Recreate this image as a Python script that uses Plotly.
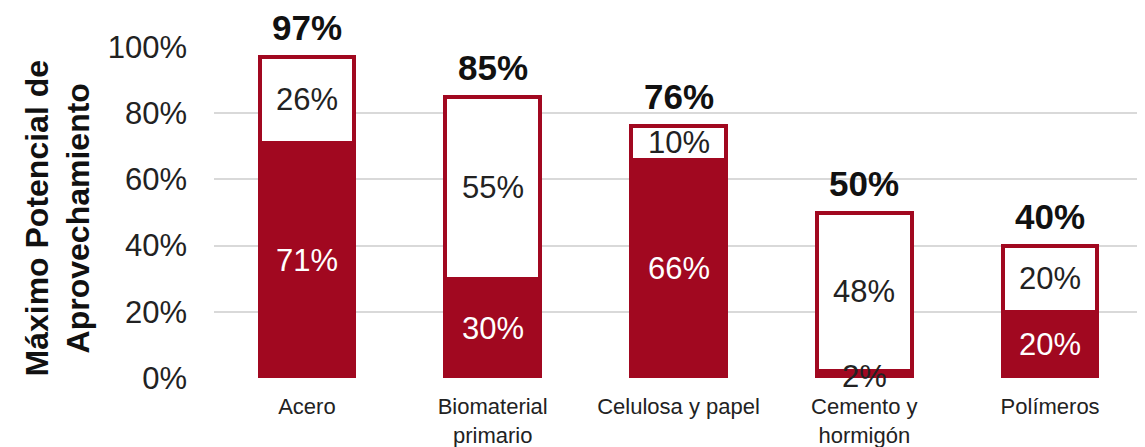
import plotly.graph_objects as go

categories = ["Acero", "Biomaterial<br>primario", "Celulosa y papel", "Cemento y<br>hormigón", "Polímeros"]
base_values = [71, 30, 66, 2, 20]      # filled (dark red) segment
extra_values = [26, 55, 10, 48, 20]    # white segment on top
totals = [97, 85, 76, 50, 40]
y_ticks = [0, 20, 40, 60, 80, 100]

RED = "#A10820"
FONT = "Liberation Sans, Arial, sans-serif"

fig = go.Figure()
fig.add_trace(go.Bar(x=categories, y=base_values, marker=dict(color=RED, line=dict(color=RED, width=4)),
                     width=0.51, hoverinfo="skip"))
fig.add_trace(go.Bar(x=categories, y=extra_values, marker=dict(color="white", line=dict(color=RED, width=4)),
                     width=0.51, hoverinfo="skip"))

annotations = []
for c, b, e, t in zip(categories, base_values, extra_values, totals):
    annotations.append(dict(x=c, y=b / 2, text=f"{b}%", showarrow=False, xref="x", yref="y",
                            font=dict(family=FONT, size=31, color="white" if b >= 10 else "#222"),
                            yshift=-2 if b < 10 else 0))
    annotations.append(dict(x=c, y=b + e / 2, text=f"{e}%", showarrow=False, xref="x", yref="y",
                            font=dict(family=FONT, size=31, color="#222")))
    annotations.append(dict(x=c, y=t, text=f"<b>{t}%</b>", showarrow=False, xref="x", yref="y",
                            yanchor="bottom", yshift=8,
                            font=dict(family=FONT, size=35, color="#111")))

annotations.append(dict(x=0.0, xref="paper", xanchor="center", xshift=-157,
                        y=0.5, yref="paper", yanchor="middle", textangle=-90, yshift=-6,
                        text="<b>Máximo Potencial de<br>Aprovechamiento</b>", showarrow=False,
                        font=dict(family=FONT, size=32, color="#111")))

# The page body adds an 8px offset; the figure is sized to fill the rest of the window.
fig.update_layout(
    barmode="stack",
    width=1137, height=439,
    margin=dict(l=206, r=2, t=39, b=69, autoexpand=False),
    plot_bgcolor="white", paper_bgcolor="white",
    showlegend=False,
    annotations=annotations,
    xaxis=dict(showgrid=False, showline=False, zeroline=False, automargin=False,
               tickfont=dict(family=FONT, size=22, color="#222"), ticks="outside", ticklen=9, tickcolor="white"),
    yaxis=dict(range=[0, 100], tickvals=y_ticks, ticktext=[f"{v}%" for v in y_ticks], automargin=False,
               showgrid=True, gridcolor="#d9d9d9", gridwidth=2, zeroline=False, showline=False,
               tickfont=dict(family=FONT, size=31, color="#222"), ticklabelstandoff=26),
)

fig.write_html("out.html")
